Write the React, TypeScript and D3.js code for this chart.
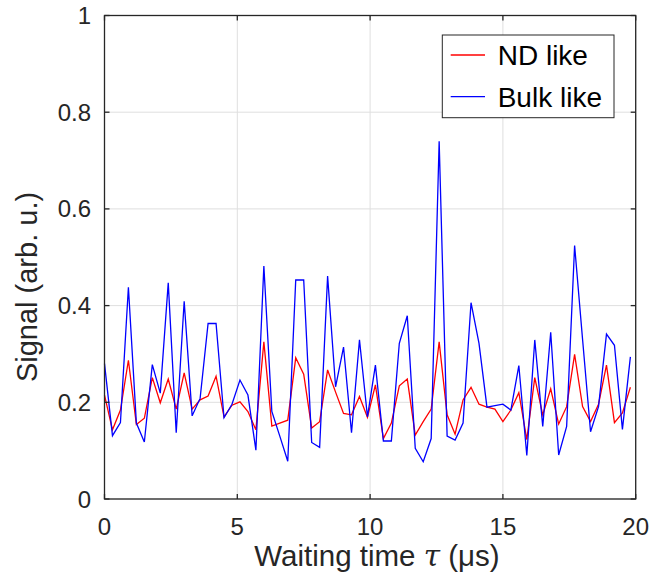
import React from 'react';
import * as d3 from 'd3';

// waiting time tau (us), sampled every 0.3 us
const tau = [
  0, 0.3, 0.6, 0.9, 1.2, 1.5, 1.8, 2.1, 2.4, 2.7, 3, 3.3, 3.6, 3.9, 4.2, 4.5, 4.8,
  5.1, 5.4, 5.7, 6, 6.3, 6.6, 6.9, 7.2, 7.5, 7.8, 8.1, 8.4, 8.7, 9, 9.3, 9.6, 9.9,
  10.2, 10.5, 10.8, 11.1, 11.4, 11.7, 12, 12.3, 12.6, 12.9, 13.2, 13.5, 13.8, 14.1,
  14.4, 14.7, 15, 15.3, 15.6, 15.9, 16.2, 16.5, 16.8, 17.1, 17.4, 17.7, 18, 18.3,
  18.6, 18.9, 19.2, 19.5, 19.8,
];

const ndLike = [
  0.215, 0.143, 0.184, 0.287, 0.154, 0.167, 0.251, 0.199, 0.248, 0.186, 0.261, 0.186,
  0.205, 0.213, 0.254, 0.17, 0.194, 0.201, 0.181, 0.143, 0.325, 0.151, 0.157, 0.163,
  0.292, 0.258, 0.147, 0.16, 0.267, 0.221, 0.177, 0.174, 0.212, 0.169, 0.236, 0.125,
  0.157, 0.234, 0.248, 0.132, 0.16, 0.186, 0.325, 0.174, 0.134, 0.205, 0.231, 0.196,
  0.19, 0.186, 0.16, 0.184, 0.22, 0.123, 0.251, 0.174, 0.228, 0.155, 0.191, 0.299,
  0.191, 0.16, 0.196, 0.277, 0.158, 0.178, 0.231,
];

const bulkLike = [
  0.28, 0.131, 0.158, 0.438, 0.157, 0.118, 0.278, 0.219, 0.447, 0.137, 0.409, 0.172,
  0.208, 0.363, 0.363, 0.168, 0.196, 0.246, 0.215, 0.101, 0.482, 0.181, 0.13, 0.078,
  0.453, 0.453, 0.117, 0.107, 0.461, 0.232, 0.314, 0.137, 0.329, 0.17, 0.277, 0.12,
  0.12, 0.322, 0.379, 0.105, 0.077, 0.125, 0.74, 0.13, 0.122, 0.157, 0.406, 0.322,
  0.19, 0.193, 0.196, 0.184, 0.276, 0.09, 0.329, 0.15, 0.345, 0.091, 0.15, 0.524,
  0.33, 0.139, 0.191, 0.341, 0.318, 0.144, 0.294,
];

const xTicks = [0, 5, 10, 15, 20];
const yTicks = [0, 0.2, 0.4, 0.6, 0.8, 1];
const seriesNames = ['ND like', 'Bulk like'];
const seriesColors = ['#ff0000', '#0000ff'];

const W = 652, H = 577;
const margin = { left: 104.5, right: 16.3, top: 15.5, bottom: 78 };
const font = '"Liberation Sans", Arial, Helvetica, sans-serif';
const ink = '#262626';

export default function App() {
  const x = d3.scaleLinear().domain([0, 20]).range([margin.left, W - margin.right]);
  const y = d3.scaleLinear().domain([0, 1]).range([H - margin.bottom, margin.top]);
  const x0 = x.range()[0], x1 = x.range()[1];
  const y0 = y.range()[0], y1 = y.range()[1];

  const line = d3.line<number>()
    .x((_, i) => x(tau[i]))
    .y((d) => y(d));

  const series = [ndLike, bulkLike];
  const tickLen = 5;

  return (
    <svg width={W} height={H} style={{ position: 'absolute', left: 0, top: 0 }} fontFamily={font}>
      <rect x={0} y={0} width={W} height={H} fill="#fff" />
      {/* grid */}
      {xTicks.map((t) => (
        <line key={'gx' + t} x1={x(t)} x2={x(t)} y1={y0} y2={y1} stroke="#dfdfdf" strokeWidth={1} />
      ))}
      {yTicks.map((t) => (
        <line key={'gy' + t} x1={x0} x2={x1} y1={y(t)} y2={y(t)} stroke="#dfdfdf" strokeWidth={1} />
      ))}
      {/* data */}
      {series.map((s, k) => (
        <path key={k} d={line(s) || ''} fill="none" stroke={seriesColors[k]} strokeWidth={1.3} strokeLinejoin="miter" />
      ))}
      {/* box and ticks */}
      <rect x={x0} y={y1} width={x1 - x0} height={y0 - y1} fill="none" stroke={ink} strokeWidth={1.3} />
      {xTicks.map((t) => (
        <g key={'tx' + t}>
          <line x1={x(t)} x2={x(t)} y1={y0} y2={y0 - tickLen} stroke={ink} strokeWidth={1.3} />
          <line x1={x(t)} x2={x(t)} y1={y1} y2={y1 + tickLen} stroke={ink} strokeWidth={1.3} />
          <text x={x(t)} y={535} textAnchor="middle" fontSize={24} fill={ink}>{t}</text>
        </g>
      ))}
      {yTicks.map((t) => (
        <g key={'ty' + t}>
          <line x1={x0} x2={x0 + tickLen} y1={y(t)} y2={y(t)} stroke={ink} strokeWidth={1.3} />
          <line x1={x1} x2={x1 - tickLen} y1={y(t)} y2={y(t)} stroke={ink} strokeWidth={1.3} />
          <text x={91} y={y(t) + 8.5} textAnchor="end" fontSize={24} fill={ink}>{t}</text>
        </g>
      ))}
      {/* axis labels */}
      <text x={377} y={566} textAnchor="middle" fontSize={29.5} fill={ink}>
        Waiting time <tspan fontStyle="italic" fontFamily='"DejaVu Serif", serif'>τ</tspan> (μs)
      </text>
      <text transform="translate(37,287) rotate(-90)" textAnchor="middle" fontSize={29} fill={ink}>
        Signal (arb. u.)
      </text>
      {/* legend */}
      <rect x={442.3} y={35} width={171.7} height={82.7} fill="#fff" stroke={ink} strokeWidth={1} />
      {seriesNames.map((n, k) => (
        <g key={n}>
          <line x1={450.7} x2={485} y1={55 + k * 41.7} y2={55 + k * 41.7} stroke={seriesColors[k]} strokeWidth={1.3} />
          <text x={497.7} y={65 + k * 42} fontSize={28} fill="#000">{n}</text>
        </g>
      ))}
    </svg>
  );
}
